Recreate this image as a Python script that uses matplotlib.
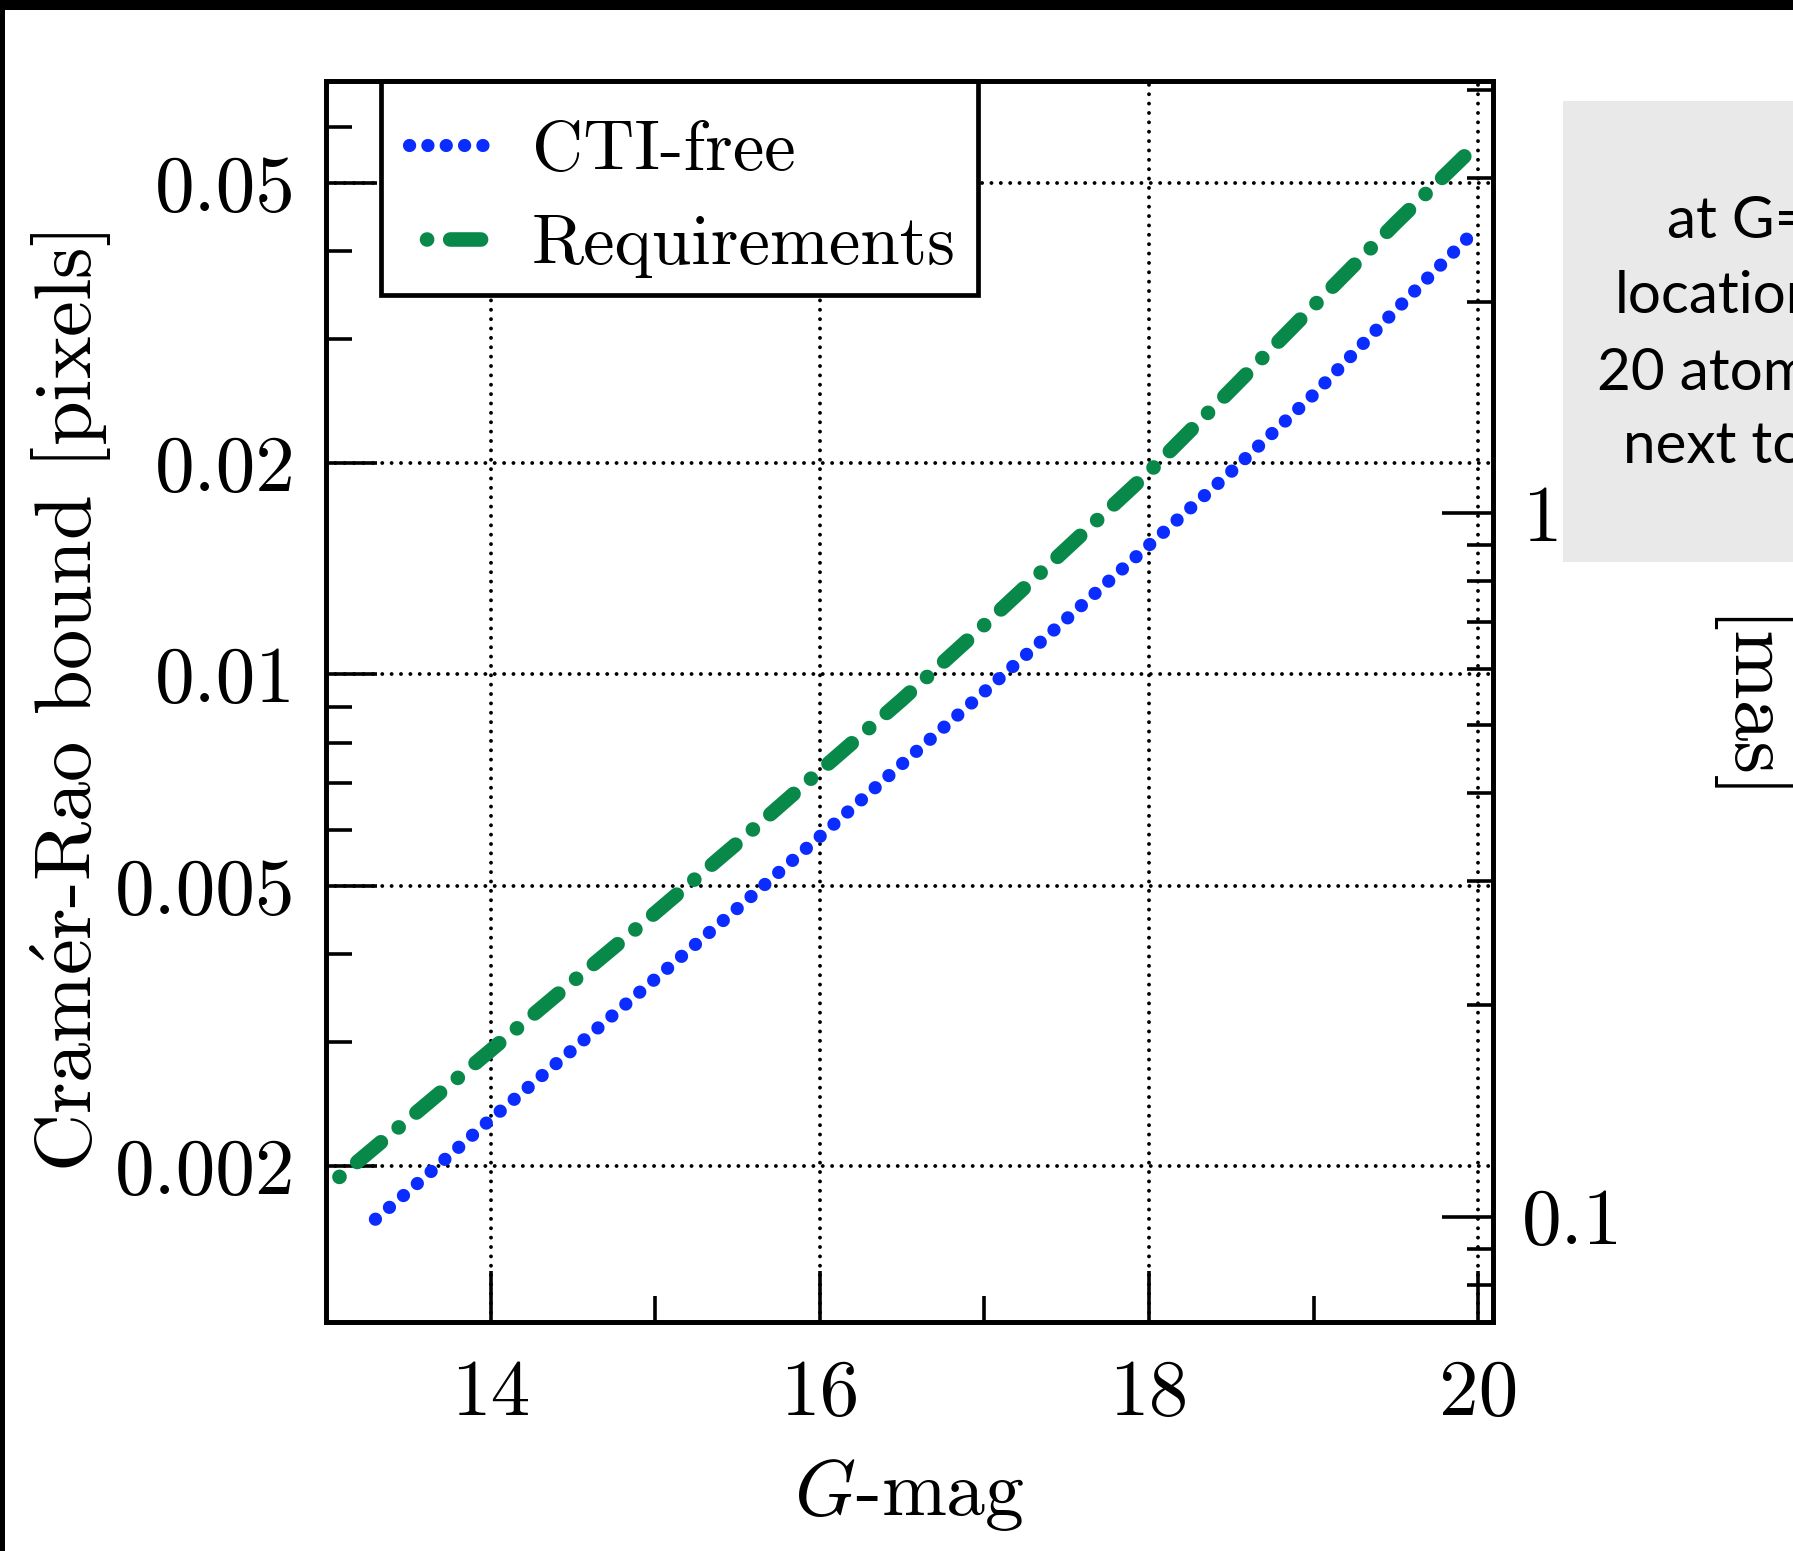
import matplotlib
matplotlib.use("Agg")
import matplotlib.pyplot as plt
from matplotlib.ticker import LogLocator, NullFormatter, FixedLocator
from matplotlib.patches import Rectangle

# Computer Modern look for the plot text
plt.rcParams['font.family'] = 'cmr10'
plt.rcParams['mathtext.fontset'] = 'cm'
plt.rcParams['axes.formatter.use_mathtext'] = True

# Values
mag_cti = [13.3, 13.5, 14.0, 14.5, 15.0, 15.5, 16.0, 16.5, 17.0, 17.5, 18.0, 18.5, 19.0, 19.5, 20.0]
cti_free = [0.00168, 0.00184, 0.00233, 0.00293, 0.00369, 0.00465, 0.00588, 0.00746,
            0.00945, 0.0120, 0.01527, 0.01943, 0.0250, 0.0330, 0.0432]

mag_req = [13.0, 13.5, 14.0, 14.5, 15.0, 15.5, 16.0, 16.5, 17.0, 17.5, 18.0, 18.5, 19.0, 19.5, 20.0]
requirements = [0.00186, 0.00233, 0.00292, 0.00366, 0.00458, 0.00576, 0.00729, 0.00921,
                0.01176, 0.01511, 0.0194, 0.02542, 0.03341, 0.04387, 0.0570]

x_ticks = [14, 16, 18, 20]
x_minor = [15, 17, 19]
y_ticks = [0.002, 0.005, 0.01, 0.02, 0.05]
y_tick_labels = ['0.002', '0.005', '0.01', '0.02', '0.05']
mas_ticks = [0.1, 1]
mas_tick_labels = ['0.1', '1']
mas_per_pixel = 59.0
x_range = (13.0, 20.09)
y_range = (0.0012, 0.0698)

box_lines = ['at G=', 'location', '20 atom', 'next to']
box_x = [1667, 1615, 1597, 1623]
box_y = [238, 313, 390, 463]

blue = '#0a2cff'
green = '#08894a'

W, H = 1793, 1551
fig = plt.figure(figsize=(W / 100, H / 100), dpi=100)
ax = fig.add_axes([326 / W, 1 - 1322 / H, (1493 - 326) / W, (1322 - 81) / H])

ax.plot(mag_cti, cti_free, color=blue, lw=9.5, linestyle=(0, (0.01, 1.38)),
        dash_capstyle='round', label='CTI-free')
ax.plot(mag_req, requirements, color=green, lw=10.5, linestyle=(2.5, (2.12, 1.58, 0.01, 1.58)),
        dash_capstyle='round', label='Requirements')

ax.set_yscale('log')
ax.set_xlim(*x_range)
ax.set_ylim(*y_range)

ax.set_xticks(x_ticks)
ax.set_xticklabels([str(t) for t in x_ticks])
ax.xaxis.set_minor_locator(FixedLocator(x_minor))
ax.set_yticks(y_ticks)
ax.set_yticklabels(y_tick_labels)
ax.yaxis.set_minor_locator(LogLocator(base=10, subs=(3, 4, 6, 7, 8, 9), numticks=30))
ax.yaxis.set_minor_formatter(NullFormatter())

ax.tick_params(which='both', direction='in', top=False, right=False, width=2.6, colors='black')
ax.tick_params(which='major', length=37, labelsize=57)
ax.tick_params(axis='x', which='major', pad=27)
ax.tick_params(axis='y', which='major', pad=22)
ax.tick_params(which='minor', length=19)

ax.grid(True, which='major', color='black', lw=2.8, linestyle=(0, (0.01, 2.4)),
        dash_capstyle='round')

ax.set_xlabel('$G$-mag', fontsize=56)
ax.xaxis.set_label_coords(0.5, -0.109)
ax.set_ylabel('Cram$\\acute{\\mathrm{e}}$r-Rao bound [pixels]', fontsize=58)
ax.yaxis.set_label_coords(-0.182, 0.5)

# right axis in milliarcseconds
ax2 = ax.twinx()
ax2.set_yscale('log')
ax2.set_ylim(y_range[0] * mas_per_pixel, y_range[1] * mas_per_pixel)
ax2.set_yticks(mas_ticks)
ax2.set_yticklabels(mas_tick_labels)
ax2.yaxis.set_minor_locator(LogLocator(base=10, subs=(2, 3, 4, 5, 6, 7, 8, 9), numticks=30))
ax2.yaxis.set_minor_formatter(NullFormatter())
ax2.tick_params(which='both', direction='in', width=2.6)
ax2.tick_params(which='major', length=37, labelsize=57, pad=21)
ax2.tick_params(which='minor', length=19)

for a in (ax, ax2):
    for s in a.spines.values():
        s.set_linewidth(3.4)

# legend frame drawn on its own so the entries can sit a little lower in it
ax.add_patch(Rectangle((381 / W, 1 - 295 / H), (978 - 381) / W, (295 - 81) / H,
                       transform=fig.transFigure, facecolor='white', edgecolor='black',
                       lw=3.4, zorder=4.9, clip_on=False))
leg = ax.legend(loc='upper left', bbox_to_anchor=(381 / W, 1 - 92 / H),
                bbox_transform=fig.transFigure, fontsize=51, frameon=False,
                borderaxespad=0, handlelength=1.2, handletextpad=0.53,
                labelspacing=0.42, borderpad=0.40)

fig.text(1745 / W, 1 - 711 / H, '[mas]', rotation=270, ha='center', va='center', fontsize=60)

# slide leftovers: dark frame edges and the grey note box
fig.add_artist(Rectangle((0, 1 - 10 / H), 1, 10 / H, transform=fig.transFigure,
                         color='black', lw=0))
fig.add_artist(Rectangle((0, 0), 5 / W, 1, transform=fig.transFigure, color='black', lw=0))
fig.add_artist(Rectangle((1563 / W, 1 - 562 / H), 1 - 1563 / W, (562 - 101) / H,
                         transform=fig.transFigure, color='#e9e9e9', lw=0))
for txt, bx, by in zip(box_lines, box_x, box_y):
    fig.text(bx / W, 1 - by / H, txt, fontfamily='Lato', fontsize=42, ha='left', va='baseline')

fig.savefig('out.png', dpi=100)
